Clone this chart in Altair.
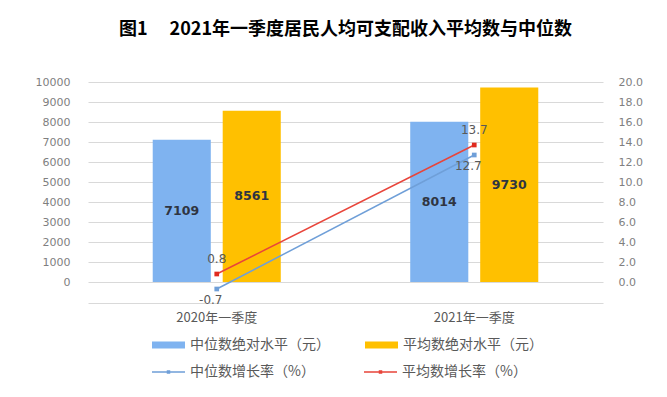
import altair as alt
import pandas as pd

periods = ["2020年一季度", "2021年一季度"]
median_abs = [7109, 8014]
mean_abs = [8561, 9730]
median_growth = [-0.7, 12.7]
mean_growth = [0.8, 13.7]

S_MED_ABS = "中位数绝对水平（元）"
S_MEAN_ABS = "平均数绝对水平（元）"
S_MED_G = "中位数增长率（%）"
S_MEAN_G = "平均数增长率（%）"
bar_colors = ["#7FB3F0", "#FFC000"]
line_colors = ["#6F9FD8", "#E8443A"]
marker_colors = ["#6F9FD8", "#E02A1E"]

bars_df = pd.DataFrame(
    [{"period": p, "series": S_MED_ABS, "value": v} for p, v in zip(periods, median_abs)]
    + [{"period": p, "series": S_MEAN_ABS, "value": v} for p, v in zip(periods, mean_abs)]
)
growth_df = pd.DataFrame(
    [{"period": p, "series": S_MED_G, "value": v} for p, v in zip(periods, median_growth)]
    + [{"period": p, "series": S_MEAN_G, "value": v} for p, v in zip(periods, mean_growth)]
)

CJK = "Noto Sans CJK SC"
x_enc = alt.X(
    "period:N",
    sort=periods,
    scale=alt.Scale(paddingInner=0, paddingOuter=0),
    axis=alt.Axis(
        title=None, labelAngle=0, ticks=False, offset=21, domainColor="#D9D9D9",
        labelPadding=8, labelFont=CJK, labelFontSize=13, labelColor="#595959", grid=False,
    ),
)

legend_common = dict(
    title=None, orient="none", legendX=62, direction="horizontal", padding=0,
    symbolSize=100, labelOffset=26, labelFont=CJK, labelFontSize=14,
    labelColor="#595959", labelLimit=300, symbolOpacity=1,
)

fill_enc = alt.Fill(
    "series:N",
    scale=alt.Scale(domain=[S_MED_ABS, S_MEAN_ABS], range=bar_colors),
    legend=alt.Legend(
        legendY=256, columnPadding=33,
        symbolType="M-1,-0.7H5.6V0.7H-1Z", symbolStrokeWidth=0,
        **legend_common,
    ),
)
stroke_enc = alt.Stroke(
    "series:N",
    scale=alt.Scale(domain=[S_MED_G, S_MEAN_G], range=line_colors),
    legend=alt.Legend(
        legendY=283, columnPadding=46,
        symbolType="M-1,0H5.6M2.1,-0.2H2.5V0.2H2.1Z", symbolStrokeWidth=1.5,
        **legend_common,
    ),
)

left_axis = alt.Axis(
    title=None, values=list(range(0, 10001, 1000)), format="d", ticks=False, domain=False,
    gridColor="#D9D9D9", labelPadding=18, labelFont="DejaVu Sans",
    labelFontSize=11, labelColor="#7F7F7F",
)
left_scale = alt.Scale(domain=[0, 10000], nice=False)

xoff = alt.XOffset("series:N", sort=[S_MED_ABS, S_MEAN_ABS],
                   scale=alt.Scale(paddingInner=0.17, paddingOuter=0.925))

bars = alt.Chart(bars_df).mark_bar().encode(
    x=x_enc, xOffset=xoff,
    y=alt.Y("value:Q", scale=left_scale, axis=left_axis),
    fill=fill_enc,
)

bar_text = (
    alt.Chart(bars_df)
    .transform_calculate(label="datum.value")
    .transform_calculate(value="datum.label / 2")
    .mark_text(font="DejaVu Sans", fontWeight="bold", fontSize=12.5, color="#2F3542")
    .encode(
        x=x_enc, xOffset=xoff,
        y=alt.Y("value:Q", scale=left_scale, axis=left_axis),
        text=alt.Text("label:Q", format="d"),
    )
)

y_right = alt.Y(
    "value:Q",
    scale=alt.Scale(domain=[0, 20], nice=False),
    axis=alt.Axis(
        title=None, orient="right", values=list(range(0, 21, 2)), format=".1f",
        ticks=False, domain=False, grid=False, labelPadding=15,
        labelFont="DejaVu Sans", labelFontSize=11, labelColor="#7F7F7F",
    ),
)

lines = alt.Chart(growth_df).mark_line(strokeWidth=1.5).encode(
    x=x_enc, y=y_right, stroke=stroke_enc, detail="series:N",
)
points = alt.Chart(growth_df).mark_point(
    filled=True, shape="square", size=22, opacity=1
).encode(
    x=x_enc, y=y_right,
    fill=alt.Fill("series:N",
                  scale=alt.Scale(domain=[S_MED_G, S_MEAN_G], range=marker_colors),
                  legend=None),
)
lbl_expr = "replace(format(datum.value, '.1f'), '\u2212', '-')"
text_med = alt.Chart(growth_df).transform_filter(
    alt.datum.series == S_MED_G
).transform_calculate(lbl=lbl_expr).mark_text(
    dy=11, dx=-6, font="DejaVu Sans", fontSize=12, color="#595959"
).encode(
    x=x_enc, y=y_right, text="lbl:N",
)
text_mean = alt.Chart(growth_df).transform_filter(
    alt.datum.series == S_MEAN_G
).transform_calculate(lbl=lbl_expr).mark_text(
    dy=-15, font="DejaVu Sans", fontSize=12, color="#595959"
).encode(
    x=x_enc, y=y_right, text="lbl:N",
)

left = alt.layer(bars, bar_text)
right = alt.layer(lines, points, text_med, text_mean)

chart = alt.layer(left, right).resolve_scale(y="independent", fill="independent").properties(
    width=515,
    height=200,
    autosize=alt.AutoSizeParams(type="none"),
    padding={"left": 80, "top": 74, "right": 56, "bottom": 107},
    title=alt.TitleParams(
        "图1\u3000\u00a02021年一季度居民人均可支配收入平均数与中位数",
        font=CJK, fontWeight="bold", fontSize=18, color="#000000",
        anchor="middle", offset=37,
    ),
).configure_view(stroke=None)

chart.save("out.html", embed_options={"renderer": "svg", "actions": False})
